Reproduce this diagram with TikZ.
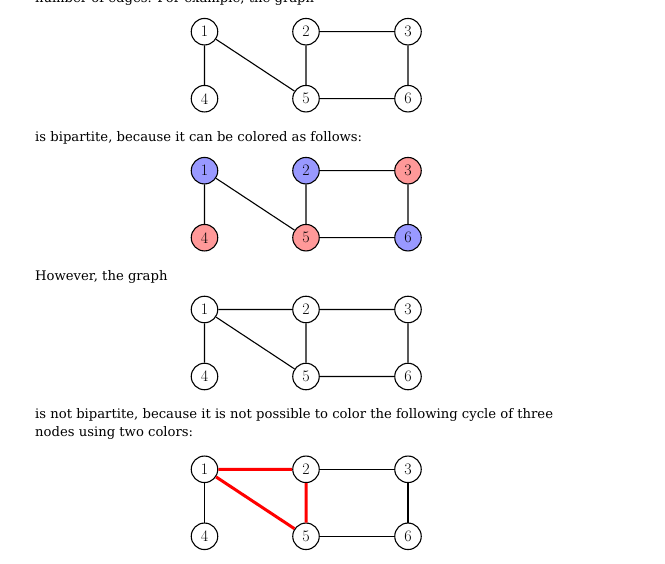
\documentclass[tikz,border=0pt]{standalone}
\usepackage{fontspec}
\newfontfamily\bodyfont{DejaVu Serif}
\newlength\reflen
\begin{document}
\settowidth\reflen{\bodyfont\fontsize{10pt}{12pt}\selectfont is bipartite, because it can be colored as follows:}%
\pgfmathsetmacro\fsz{10*327/\reflen}%
\gdef\bodytext{\bodyfont\fontsize{\fsz pt}{\fsz pt}\selectfont}%
\begin{tikzpicture}[x=1pt,y=-1pt,
  vert/.style={circle,draw,line width=1.1pt,minimum size=26.5pt,inner sep=0pt,
    font=\fontsize{16pt}{16pt}\selectfont},
  bluev/.style={vert,fill=blue!40},
  redv/.style={vert,fill=red!40},
  edge/.style={line width=1.1pt},
  cyc/.style={line width=3pt,red},
  txt/.style={anchor=base west,inner sep=0pt,font=\bodytext}]
\useasboundingbox (0,0) rectangle (665,564);

% texts
\node[txt] (t0) at (35,3) {number of edges. For example, the graph};
\node[txt] (t1) at (35,141.5) {is bipartite, because it can be colored as follows:};
\node[txt] (t2) at (35,280.5) {However, the graph};
\node[txt] (t3) at (35,419) {is not bipartite, because it is not possible to color the following cycle of three};
\node[txt] (t4) at (35,437) {nodes using two colors:};

% graph 1
\begin{scope}[yshift=-31.7pt]
\node[vert] (a1) at (204.5,0) {1};
\node[vert] (a2) at (306,0) {2};
\node[vert] (a3) at (408,0) {3};
\node[vert] (a4) at (204.5,67) {4};
\node[vert] (a5) at (306,67) {5};
\node[vert] (a6) at (408,67) {6};
\draw[edge] (a1)--(a4) (a1)--(a5) (a2)--(a5) (a2)--(a3) (a3)--(a6) (a5)--(a6);
\end{scope}

% graph 2 (coloured)
\begin{scope}[yshift=-170.7pt]
\node[bluev] (b1) at (204.5,0) {1};
\node[bluev] (b2) at (306,0) {2};
\node[redv] (b3) at (408,0) {3};
\node[redv] (b4) at (204.5,67) {4};
\node[redv] (b5) at (306,67) {5};
\node[bluev] (b6) at (408,67) {6};
\draw[edge] (b1)--(b4) (b1)--(b5) (b2)--(b5) (b2)--(b3) (b3)--(b6) (b5)--(b6);
\end{scope}

% graph 3
\begin{scope}[yshift=-309.5pt]
\node[vert] (c1) at (204.5,0) {1};
\node[vert] (c2) at (306,0) {2};
\node[vert] (c3) at (408,0) {3};
\node[vert] (c4) at (204.5,67) {4};
\node[vert] (c5) at (306,67) {5};
\node[vert] (c6) at (408,67) {6};
\draw[edge] (c1)--(c2) (c1)--(c4) (c1)--(c5) (c2)--(c5) (c2)--(c3) (c3)--(c6) (c5)--(c6);
\end{scope}

% graph 4
\begin{scope}[yshift=-469.3pt]
\node[vert] (d1) at (204.5,0) {1};
\node[vert] (d2) at (306,0) {2};
\node[vert] (d3) at (408,0) {3};
\node[vert] (d4) at (204.5,67) {4};
\node[vert] (d5) at (306,67) {5};
\node[vert] (d6) at (408,67) {6};
\draw[edge] (d1)--(d4) (d2)--(d3) (d3)--(d6) (d5)--(d6);
\draw[cyc] (d1)--(d2) (d1)--(d5) (d2)--(d5);
\end{scope}
\end{tikzpicture}
\end{document}
